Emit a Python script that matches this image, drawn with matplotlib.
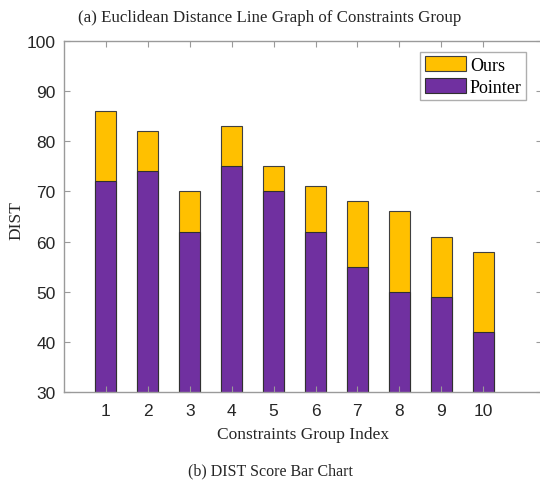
import numpy as np
import matplotlib
matplotlib.use("Agg")
import matplotlib.pyplot as plt

# DIST scores per constraints group
groups = np.arange(1, 11)
ours = [86, 82, 70, 83, 75, 71, 68, 66, 61, 58]
pointer = [72, 74, 62, 75, 70, 62, 55, 50, 49, 42]

serif = ["Liberation Serif", "DejaVu Serif"]
sans = ["Liberation Sans", "DejaVu Sans"]
grey = "#9a9a9a"

fig = plt.figure(figsize=(5.4, 4.85), dpi=100)
ax = fig.add_axes([0.1185, 0.1897, 0.885, 0.7237])

ax.bar(groups, ours, width=0.5, color="#FFC000", edgecolor="#404040", lw=0.8, label="Ours")
ax.bar(groups, pointer, width=0.5, color="#7030A0", edgecolor="#303030", lw=0.8, label="Pointer")

ax.set_xlim(0, 11.4)
ax.set_ylim(30, 100)
ax.set_xticks(groups)
ax.set_yticks(np.arange(30, 101, 10))
ax.tick_params(direction="in", top=True, right=True, length=4, color=grey,
               labelsize=12.5, labelcolor="#262626", pad=6)
ax.tick_params(axis="x", pad=8)
for t in ax.get_xticklabels() + ax.get_yticklabels():
    t.set_family(sans)
for sp in ax.spines.values():
    sp.set_color(grey)
    sp.set_linewidth(1.0)

ax.set_xlabel("Constraints Group Index", family=serif, fontsize=12.5, color="#262626", labelpad=6)
ax.set_ylabel("DIST", family=serif, fontsize=12.5, color="#262626")
ax.yaxis.set_label_coords(-0.083, 0.49)

leg = ax.legend(loc="upper right", prop={"family": serif, "size": 13}, fancybox=False,
                borderpad=0.25, handlelength=2.3, handleheight=0.85, handletextpad=0.2,
                labelspacing=0.25, borderaxespad=0.6, bbox_to_anchor=(0.99, 1.0))
leg.get_frame().set_edgecolor(grey)
leg.get_frame().set_linewidth(1.0)

fig.text(0.5, 0.963, "(a) Euclidean Distance Line Graph of Constraints Group", ha="center", va="center",
         family=serif, fontsize=12.2, color="#262626")
fig.text(0.5, 0.028, "(b) DIST Score Bar Chart", ha="center", va="center",
         family=serif, fontsize=11.5, color="#262626")

fig.savefig("out.png", dpi=100)
